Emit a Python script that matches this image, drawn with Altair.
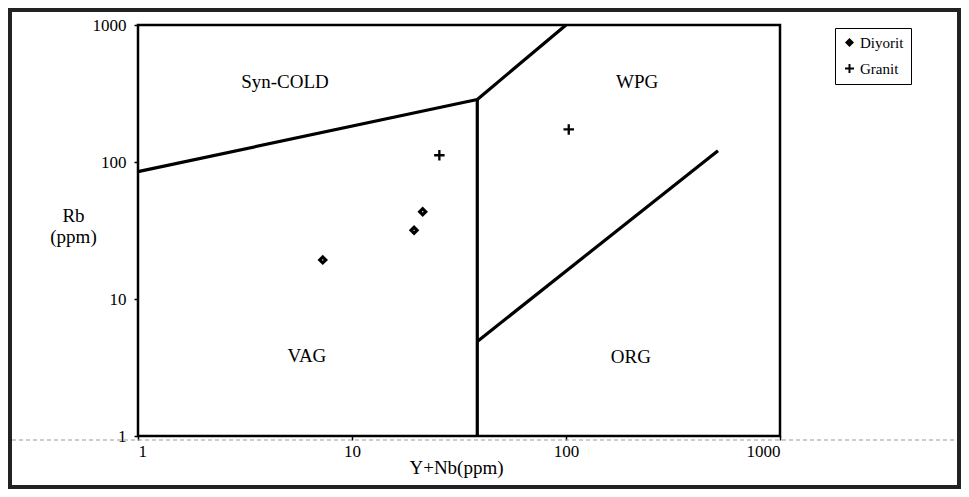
import altair as alt
import pandas as pd

# ---- sample data (Y+Nb, Rb in ppm) ----
diyorit_x = [7.3, 19.5, 21.4]
diyorit_y = [19.3, 31.7, 43.4]
granit_x = [25.6, 103]
granit_y = [112, 173]

# ---- field boundaries (Pearce et al. diagram as drawn) ----
seg_names = ["syncol_vag", "wpg_syncol", "vag_wpg", "org_wpg"]
seg_x = [[1, 38.5], [38.5, 100], [38.5, 38.5], [38.5, 513]]
seg_y = [[85, 286], [286, 1000], [286, 1], [4.9, 121]]

# ---- field labels ----
field_labels = ["Syn-COLD", "WPG", "VAG", "ORG"]
label_x = [4.86, 215, 6.16, 201]
label_y = [381, 381, 3.85, 3.78]

tick_values = [1, 10, 100, 1000]

W, H = 642, 411
PAD = {"left": 130, "top": 17, "right": 181, "bottom": 53}
FONT = "Liberation Serif"
PLUS = "M-1,-0.22H-0.22V-1H0.22V-0.22H1V0.22H0.22V1H-0.22V0.22H-1Z"

# tables
seg_rows = []
for name, xs, ys in zip(seg_names, seg_x, seg_y):
    for i, (a, b) in enumerate(zip(xs, ys)):
        seg_rows.append({"seg": name, "order": i, "x": a, "y": b})
seg_df = pd.DataFrame(seg_rows)

pts_df = pd.DataFrame(
    {"x": diyorit_x + granit_x,
     "y": diyorit_y + granit_y,
     "type": ["Diyorit"] * len(diyorit_x) + ["Granit"] * len(granit_x)}
)
dio_df = pd.DataFrame({"x": diyorit_x, "y": diyorit_y})
lab_df = pd.DataFrame({"x": label_x, "y": label_y, "label": field_labels})

xscale = alt.Scale(type="log", domain=[1, 1000], nice=False)
yscale = alt.Scale(type="log", domain=[1, 1000], nice=False)

xenc = alt.X(
    "x:Q", scale=xscale,
    axis=alt.Axis(values=tick_values, format="d", title="Y+Nb(ppm)",
                  titleX=318, titleY=31, titleBaseline="middle",
                  titleAnchor="start", titleAlign="center",
                  labelPadding=3),
)
yenc = alt.Y(
    "y:Q", scale=yscale,
    axis=alt.Axis(values=tick_values, format="d", title=["Rb", "(ppm)"],
                  titleAngle=0, titleAlign="center", titleBaseline="top",
                  titleX=-65, titleY=181, titleLineHeight=21,
                  labelPadding=8),
)

lines = alt.Chart(seg_df).mark_line(color="black", strokeWidth=3.2).encode(
    x=xenc, y=yenc, detail="seg:N", order="order:Q"
)

points = alt.Chart(pts_df).mark_point(
    filled=True, color="black", size=110, opacity=1
).encode(
    x=xenc, y=yenc,
    shape=alt.Shape(
        "type:N",
        scale=alt.Scale(domain=["Diyorit", "Granit"], range=["diamond", PLUS]),
        legend=alt.Legend(
            title=None, orient="none", legendX=697, legendY=3,
            strokeColor="black", padding=7, rowPadding=10,
            labelFont=FONT, labelFontSize=15, labelColor="black",
            symbolSize=80, symbolFillColor="black", labelOffset=3,
        ),
    ),
)

holes = alt.Chart(dio_df).mark_point(filled=True, color="white", size=2, opacity=1).encode(
    x=xenc, y=yenc
)

labels = alt.Chart(lab_df).mark_text(font=FONT, fontSize=19, color="black").encode(
    x=xenc, y=yenc, text="label:N"
)

one = pd.DataFrame({"a": [0]})
border = alt.Chart(one).mark_rect(fillOpacity=0, stroke="#222", strokeWidth=4).encode(
    x=alt.value(-PAD["left"] + 2), x2=alt.value(W + PAD["right"] - 2),
    y=alt.value(-PAD["top"] + 2), y2=alt.value(H + PAD["bottom"] - 2),
)
scanline = alt.Chart(one).mark_rule(color="#999", strokeWidth=1, strokeDash=[4, 3]).encode(
    x=alt.value(-PAD["left"] + 4), x2=alt.value(W + PAD["right"] - 6), y=alt.value(H + 4)
)

chart = alt.layer(scanline, border, lines, points, holes, labels).properties(
    width=W, height=H,
    padding=PAD,
    autosize=alt.AutoSizeParams(type="none"),
    background="white",
).configure_view(
    stroke="black", strokeWidth=2.5
).configure_axis(
    grid=False, domain=False, ticks=True, tickColor="black", tickSize=4, tickWidth=1.5,
    labelFont=FONT, labelFontSize=17, labelColor="black",
    titleFont=FONT, titleFontSize=19, titleFontWeight="normal", titleColor="black",
)

chart.save("out.html", embed_options={"renderer": "svg", "actions": False})
